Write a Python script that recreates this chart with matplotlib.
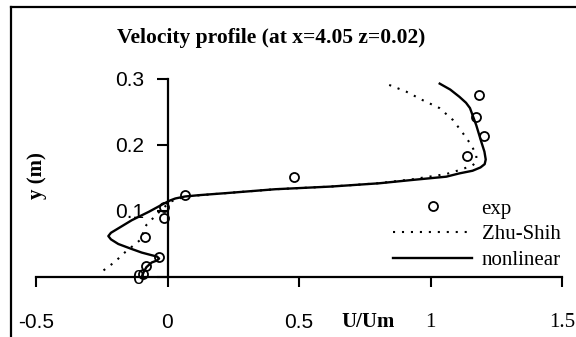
import matplotlib
matplotlib.use("Agg")
import matplotlib.pyplot as plt
from matplotlib.lines import Line2D

# ---- data ----
u_exp = [1.185, 1.174, 1.202, 1.137, 0.48, 0.065, -0.015, -0.015, -0.085, -0.034, -0.08, -0.095]
y_exp = [0.275, 0.243, 0.213, 0.183, 0.152, 0.124, 0.106, 0.089, 0.061, 0.030, 0.016, 0.004]

u_zs = [0.843, 0.907, 0.97, 1.034, 1.085, 1.123, 1.155, 1.174, 1.175, 1.16, 1.11, 1.06,
        0.93, 0.80, 0.62, 0.41, 0.22, 0.067, 0.01, -0.028, -0.08, -0.104, -0.16, -0.20, -0.25]
y_zs = [0.291, 0.281, 0.268, 0.256, 0.238, 0.218, 0.200, 0.185, 0.175, 0.169, 0.162, 0.156,
        0.148, 0.142, 0.137, 0.133, 0.127, 0.122, 0.114, 0.100, 0.079, 0.056, 0.038, 0.023, 0.008]

u_nl = [1.035, 1.075, 1.11, 1.135, 1.15, 1.174, 1.193, 1.205, 1.21, 1.206, 1.19, 1.16,
        1.11, 1.06, 0.93, 0.805, 0.62, 0.41, 0.22, 0.12, 0.067, 0.03, 0.01, -0.01,
        -0.07, -0.136, -0.19, -0.215, -0.225, -0.215, -0.187, -0.14, -0.098, -0.06,
        -0.04, -0.032, -0.04, -0.06, -0.08, -0.09, -0.098]
y_nl = [0.293, 0.284, 0.273, 0.264, 0.256, 0.230, 0.205, 0.19, 0.178, 0.171, 0.166, 0.161,
        0.157, 0.152, 0.147, 0.142, 0.137, 0.133, 0.127, 0.124, 0.122, 0.119, 0.116, 0.112,
        0.099, 0.086, 0.073, 0.067, 0.062, 0.057, 0.05, 0.043, 0.037, 0.033,
        0.031, 0.028, 0.025, 0.022, 0.015, 0.008, 0.0]

x_ticks = [-0.5, 0, 0.5, 1, 1.5]
x_tick_labels = ["-0.5", "0", "0.5", "1", "1.5"]
y_ticks = [0, 0.1, 0.2, 0.3]
y_tick_labels = ["0", "0.1", "0.2", "0.3"]

title = "Velocity profile (at x=4.05 z=0.02)"
serif = ["Liberation Serif", "DejaVu Serif"]
sans = ["Liberation Sans", "DejaVu Sans"]

W, H = 576, 337
fig = plt.figure(figsize=(W / 100, H / 100), dpi=100)
ax = fig.add_axes([36 / W, 1 - 277 / H, (562 - 36) / W, (277 - 79) / H])

ax.plot(u_zs, y_zs, color="black", lw=1.5, linestyle=(0, (1, 3.3)), label="Zhu-Shih")
ax.plot(u_nl, y_nl, color="black", lw=1.7, label="nonlinear")
ax.plot(u_exp, y_exp, linestyle="none", marker="o", markersize=6.5, markerfacecolor="none",
        markeredgecolor="black", markeredgewidth=1.3, label="exp", clip_on=False, zorder=5)

ax.set_xlim(-0.5, 1.5)
ax.set_ylim(0, 0.3)
for s in ["top", "right"]:
    ax.spines[s].set_visible(False)
ax.spines["left"].set_position(("data", 0))
ax.spines["bottom"].set_position(("data", 0))
for s in ["left", "bottom"]:
    ax.spines[s].set_linewidth(1.6)

ax.set_xticks(x_ticks)
ax.set_xticklabels(x_tick_labels)
ax.set_yticks(y_ticks)
ax.set_yticklabels(y_tick_labels)
ax.tick_params(axis="x", direction="out", length=7, width=1.5, pad=19, labelsize=15)
ax.tick_params(axis="y", direction="out", length=8, width=1.5, pad=9, labelsize=15)
for lbl in ax.get_xticklabels():
    if lbl.get_text() in ("1", "1.5"):
        lbl.set_fontfamily(serif)
    else:
        lbl.set_fontfamily(sans)
for lbl in ax.get_yticklabels():
    lbl.set_fontfamily(sans)

fig.text(271 / W, 1 - 38 / H, title, ha="center", va="center", fontsize=15.5,
         fontweight="bold", family=serif)
fig.text(368 / W, 1 - 322 / H, "U/Um", ha="center", va="center", fontsize=15,
         fontweight="bold", family=serif)
fig.text(37 / W, 1 - 176 / H, "y (m)", ha="center", va="center", fontsize=15,
         fontweight="bold", family=serif, rotation=90)

h, l = ax.get_legend_handles_labels()
order = [2, 0, 1]
leg = ax.legend([h[i] for i in order], [l[i] for i in order], loc="upper left",
                bbox_to_anchor=(393 / W, 1 - 199 / H), bbox_transform=fig.transFigure,
                frameon=False, prop={"family": serif, "size": 15}, handlelength=3.8,
                handletextpad=0.45, labelspacing=0.3, borderpad=0, borderaxespad=0)

# outer frame (top and left edges)
fig.add_artist(Line2D([11 / W, 1.0], [1 - 7 / H, 1 - 7 / H], color="black", lw=1.6,
                      transform=fig.transFigure))
fig.add_artist(Line2D([11 / W, 11 / W], [0, 1 - 7 / H], color="black", lw=1.6,
                      transform=fig.transFigure))

fig.savefig("out.png", dpi=100)
